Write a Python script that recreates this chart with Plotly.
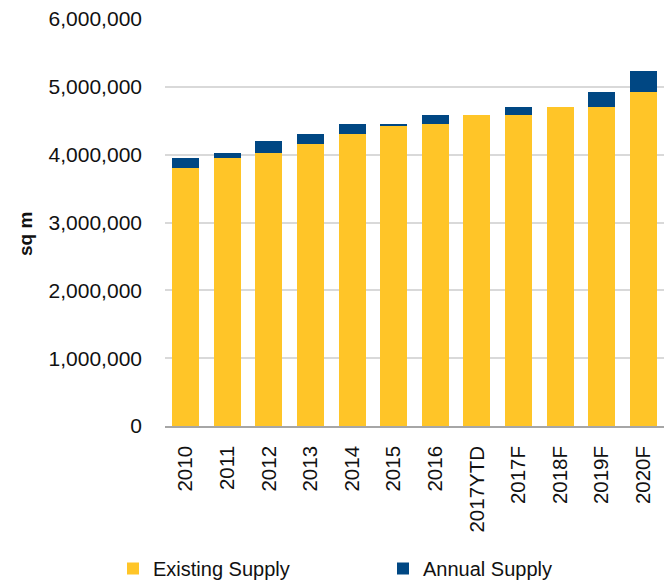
import plotly.graph_objects as go

# Office supply by year, square metres
years = ["2010", "2011", "2012", "2013", "2014", "2015", "2016",
         "2017YTD", "2017F", "2018F", "2019F", "2020F"]
existing_supply = [3800000, 3950000, 4025000, 4153000, 4305000, 4427000, 4457000,
                   4580000, 4580000, 4703000, 4703000, 4929000]
annual_supply = [147000, 75000, 175000, 152000, 152000, 30000, 123000,
                 0, 123000, 0, 226000, 305000]
y_ticks = [0, 1000000, 2000000, 3000000, 4000000, 5000000, 6000000]

YELLOW = "#FFC528"
BLUE = "#004783"
FONT = "Liberation Sans, Arial, sans-serif"

fig = go.Figure()
fig.add_trace(go.Bar(x=years, y=existing_supply, name="Existing Supply",
                     legend="legend",
                     marker=dict(color=YELLOW, line=dict(width=0))))
fig.add_trace(go.Bar(x=years, y=annual_supply, name="Annual Supply",
                     legend="legend2",
                     marker=dict(color=BLUE, line=dict(width=0))))

# one legend box per series so each entry sits at its own spot
legend_common = dict(orientation="h", xanchor="left",
                     yref="container", y=1 - 549 / 581, yanchor="top",
                     font=dict(size=20, color="#111111"), itemwidth=30,
                     bgcolor="rgba(0,0,0,0)", borderwidth=0)

fig.update_layout(
    barmode="stack",
    bargap=0.35,
    width=670, height=581,
    margin=dict(l=165, r=6, t=19, b=155, autoexpand=False),
    paper_bgcolor="white", plot_bgcolor="white",
    font=dict(family=FONT, size=20, color="#111111"),
    showlegend=True,
    legend=dict(xref="container", x=113 / 670, **legend_common),
    legend2=dict(xref="container", x=383 / 670, **legend_common),
    xaxis=dict(type="category", tickangle=-90, showgrid=False, ticks="",
               showline=True, linecolor="#A6A6A6", linewidth=1.5,
               ticklabelstandoff=10, tickfont=dict(size=20.5)),
    yaxis=dict(range=[0, 6000000], tickvals=y_ticks,
               ticktext=[f"{v:,}" for v in y_ticks],
               showgrid=True, gridcolor="#D9D9D9", gridwidth=1.5,
               zeroline=False, showline=False, ticks="",
               ticklabelstandoff=22, tickfont=dict(size=21)),
    annotations=[dict(text="<b>sq m</b>", textangle=-90, showarrow=False,
                      xref="paper", yref="paper",
                      x=(25 - 165) / 499, y=(426 - 234) / 407,
                      xanchor="center", yanchor="middle",
                      font=dict(size=19, color="#111111"))],
)

fig.write_html("out.html")
